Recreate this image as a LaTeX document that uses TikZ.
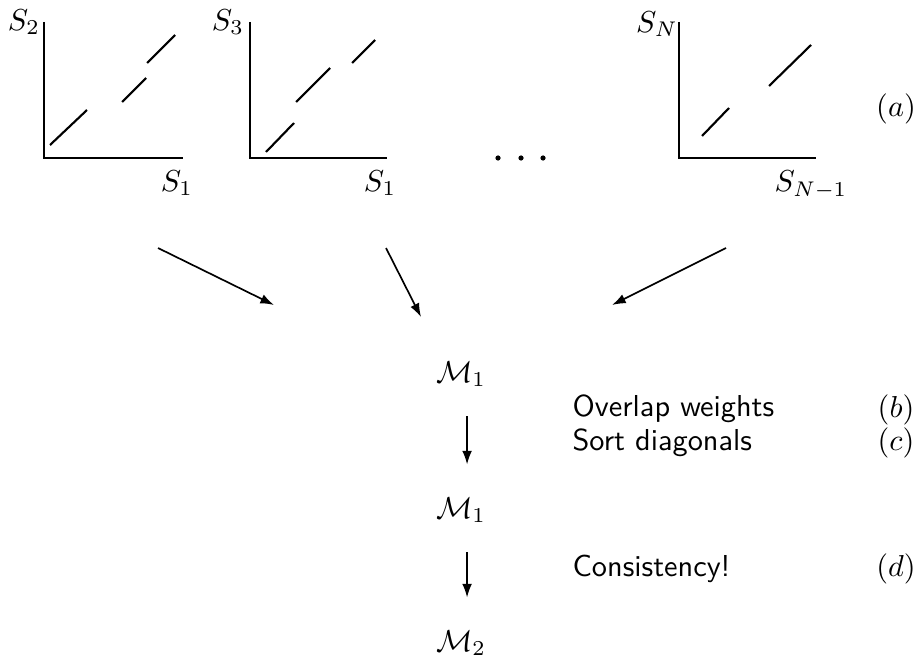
\documentclass[tikz,border=0pt]{standalone}
\usepackage{amsmath,amssymb}
\usepackage{tikz}
\usetikzlibrary{arrows.meta,positioning}

\tikzset{
  axisline/.style={line width=0.7pt},
  diagseg/.style={line width=0.7pt},
  flow/.style={line width=0.55pt,-{Latex[length=4.5pt,width=3.2pt]}},
  steptext/.style={anchor=west,inner sep=0pt,font=\sffamily},
  tag/.style={inner sep=0pt}
}

\begin{document}
\begin{tikzpicture}[x=0.33pt,y=-0.33pt]
	\useasboundingbox (0,0) rectangle (915,657);

	% Plots
	\draw[axisline] (44,22) -- (44,158) -- (183,158);
	\draw[axisline] (250,22) -- (250,158) -- (387,158);
	\draw[axisline] (679,22) -- (679,158) -- (816,158);
	\draw[diagseg] (50,145) -- (87,110) (122,102) -- (146,78) (147,63) -- (175,35);
	\draw[diagseg] (266,152) -- (294,123) (296,102) -- (330,68) (352,63) -- (375,40);
	\draw[diagseg] (702,136) -- (729,108) (769,86) -- (811,45);
	\node (y1) at (24,22) {$S_2$};
	\node (x1) at (177,183) {$S_1$};
	\node (y2) at (228,22) {$S_3$};
	\node (x2) at (380,183) {$S_1$};
	\node (yn) at (657,24) {$S_N$};
	\node (xn) at (811,185) {$S_{N-1}$};
	\foreach \x in {498,521,543}
		\fill (\x,158) circle (2.6);
	\node[tag] (ta) at (896,109) {$(a)$};

	% Nodes
	\node (m1) at (461,374) {$\mathcal{M}_1$};
	\node (m1b) at (461,510) {$\mathcal{M}_1$};
	\node (m2) at (461,643) {$\mathcal{M}_2$};
	\node[steptext] (ow) at (572,409) {Overlap weights};
	\node[steptext] (sd) at (572,443) {Sort diagonals};
	\node[steptext] (cs) at (572,569) {Consistency!};
	\node[tag] (tb) at (896,410) {$(b)$};
	\node[tag] (tc) at (896,443) {$(c)$};
	\node[tag] (td) at (896,569) {$(d)$};

	% Arrow ends
	\coordinate (s1) at (158,248);
	\coordinate (e1) at (274,305);
	\coordinate (s2) at (386,248);
	\coordinate (e2) at (421,317);
	\coordinate (s3) at (726,248);
	\coordinate (e3) at (612,305);

	% Edges
	\draw[flow] (s1) -- (e1);
	\draw[flow] (s2) -- (e2);
	\draw[flow] (s3) -- (e3);
	\draw[flow,shorten <=14pt,shorten >=15pt] ([xshift=2pt]m1.center) -- ([xshift=2pt]m1b.center);
	\draw[flow,shorten <=14pt,shorten >=15pt] ([xshift=2pt]m1b.center) -- ([xshift=2pt]m2.center);
\end{tikzpicture}
\end{document}
